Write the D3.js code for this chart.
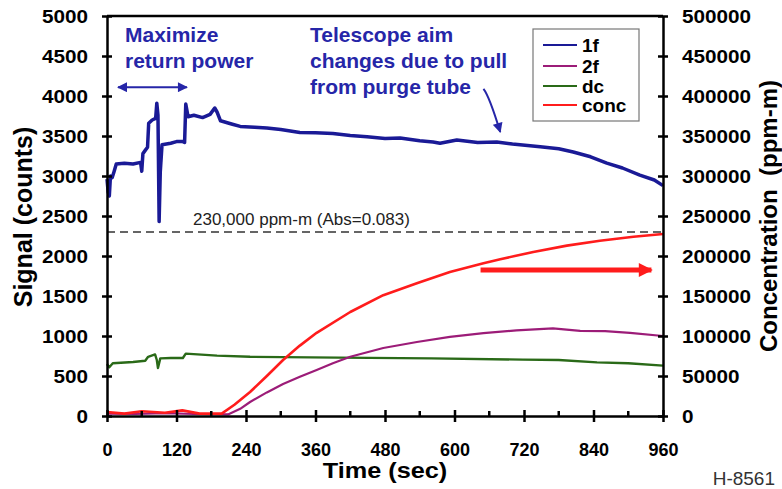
<!DOCTYPE html>
<meta charset="utf-8">
<html>
<style>
body { margin: 0; background: #fff; }
svg text { font-family: "Liberation Sans", Arial, sans-serif; }
.axis path, .axis line { stroke: #000; stroke-width: 2.5px; }
.trace { fill: none; stroke-linejoin: round; }
</style>
<body>
<script src="https://d3js.org/d3.v7.min.js"></script>
<script>

// ---- data ----
var timeTicks = [0, 120, 240, 360, 480, 600, 720, 840, 960];
var minorTicks = [60, 180, 300, 420, 540, 660, 780, 900];
var signalTicks = [0, 500, 1000, 1500, 2000, 2500, 3000, 3500, 4000, 4500, 5000];
var concTicks = [0, 50000, 100000, 150000, 200000, 250000, 300000, 350000, 400000, 450000, 500000];

var seriesNames = ["1f", "2f", "dc", "conc"];

// 1f (counts)
var t1f = [0, 2, 4, 6, 9, 12, 16, 30, 45, 58, 60, 62, 66, 70, 72, 78, 84, 86, 88, 90, 92, 95, 110, 120, 131, 134, 136, 140, 150, 165, 178, 186, 190, 196, 215, 230, 255, 276, 300, 333, 360, 390, 420, 449, 480, 506, 540, 563, 575, 604, 640, 673, 700, 748, 780, 805, 835, 863, 890, 920, 945, 960];
var v1f = [2960, 2800, 2750, 3000, 2980, 3050, 3150, 3160, 3150, 3170, 3060, 3280, 3320, 3360, 3660, 3700, 3720, 3910, 3760, 2430, 3050, 3390, 3410, 3430, 3430, 3420, 3900, 3740, 3760, 3730, 3770, 3850, 3800, 3690, 3650, 3620, 3610, 3600, 3580, 3545, 3540, 3530, 3505, 3490, 3470, 3475, 3440, 3425, 3410, 3450, 3420, 3425, 3400, 3365, 3340, 3300, 3240, 3160, 3100, 3010, 2950, 2880];

// 2f (counts)
var t2f = [0, 50, 100, 150, 209, 230, 247, 276, 304, 333, 362, 390, 420, 477, 535, 592, 650, 707, 770, 817, 860, 903, 960];
var v2f = [30, 25, 35, 25, 20, 90, 175, 295, 400, 490, 575, 660, 740, 850, 925, 990, 1035, 1070, 1095, 1065, 1060, 1040, 1000];

// dc (counts)
var tdc = [0, 4, 10, 45, 66, 71, 83, 86, 88, 92, 110, 131, 136, 190, 247, 400, 560, 718, 780, 846, 900, 960];
var vdc = [650, 610, 660, 675, 690, 740, 770, 700, 600, 720, 725, 725, 780, 755, 740, 730, 720, 705, 700, 670, 660, 630];

// conc (ppm-m)
var tconc = [0, 30, 60, 100, 130, 160, 198, 220, 247, 276, 304, 333, 362, 420, 477, 535, 592, 650, 679, 736, 794, 851, 909, 960];
var vconc = [5000, 3000, 6000, 4000, 7000, 3000, 3000, 14000, 30000, 50000, 70000, 88000, 104000, 130000, 151000, 166000, 180000, 191000, 196000, 205000, 213000, 219000, 224000, 227500];

var thresholdConc = 230000;
var thresholdLabel = "230,000 ppm-m (Abs=0.083)";

// ---- layout ----
var W = 782, H = 489;
var mLeft = 107, mRight = 663, mTop = 16, mBottom = 416;
var colors = {"1f": "#1a1a96", "2f": "#9c1c78", "dc": "#2a6a18", "conc": "#ff1c1c"};
var noteBlue = "#2626a8";

var svg = d3.select("body").append("svg")
    .attr("width", W)
    .attr("height", H);

var defs = svg.append("defs");
function marker(id, color, w, h) {
  defs.append("marker")
      .attr("id", id)
      .attr("viewBox", "0 0 10 10")
      .attr("refX", 9).attr("refY", 5)
      .attr("markerWidth", w).attr("markerHeight", h)
      .attr("markerUnits", "userSpaceOnUse")
      .attr("orient", "auto-start-reverse")
    .append("path")
      .attr("d", "M0,0L10,5L0,10z")
      .attr("fill", color);
}
marker("arrBlue", noteBlue, 11, 10);
marker("arrRed", "#ff1c1c", 16, 14);

var x = d3.scaleLinear().domain([0, 960]).range([mLeft, mRight]);
var y = d3.scaleLinear().domain([0, 5000]).range([mBottom, mTop]);
var y2 = d3.scaleLinear().domain([0, 500000]).range([mBottom, mTop]);

function zip(ts, vs) { return ts.map(function(t, i) { return [t, vs[i]]; }); }

var lineSig = d3.line().x(function(d) { return x(d[0]); }).y(function(d) { return y(d[1]); });
var lineConc = d3.line().x(function(d) { return x(d[0]); }).y(function(d) { return y2(d[1]); });

// threshold dashed line
svg.append("line")
    .attr("x1", x(0)).attr("x2", x(960))
    .attr("y1", y2(thresholdConc)).attr("y2", y2(thresholdConc))
    .attr("stroke", "#333").attr("stroke-width", 1.6)
    .attr("stroke-dasharray", "8,5");
svg.append("text")
    .attr("x", 193).attr("y", 225)
    .attr("font-size", 17).attr("fill", "#222")
    .text(thresholdLabel);

// traces
svg.append("path").datum(zip(tdc, vdc)).attr("class", "trace")
    .attr("stroke", colors.dc).attr("stroke-width", 2.4).attr("d", lineSig);
svg.append("path").datum(zip(t2f, v2f)).attr("class", "trace")
    .attr("stroke", colors["2f"]).attr("stroke-width", 2.2).attr("d", lineSig);
svg.append("path").datum(zip(tconc, vconc)).attr("class", "trace")
    .attr("stroke", colors.conc).attr("stroke-width", 2.6).attr("d", lineConc);
svg.append("path").datum(zip(t1f, v1f)).attr("class", "trace")
    .attr("stroke", colors["1f"]).attr("stroke-width", 3.5).attr("d", lineSig);

// frame top
svg.append("line")
    .attr("x1", mLeft).attr("x2", mRight).attr("y1", mTop).attr("y2", mTop)
    .attr("stroke", "#000").attr("stroke-width", 2.5);

// left axis
var gL = svg.append("g").attr("class", "axis")
    .attr("transform", "translate(" + mLeft + ",0)")
    .call(d3.axisLeft(y).tickValues(signalTicks).tickSizeOuter(0).tickFormat(d3.format("d")));
gL.selectAll(".tick line").attr("x1", 5).attr("x2", -5);
gL.selectAll(".tick text")
    .attr("x", 0).attr("dy", "0.35em")
    .attr("transform", "translate(-19,0) scale(1.15,1)")
    .attr("font-size", 18).attr("font-weight", "bold");

// right axis
var gR = svg.append("g").attr("class", "axis")
    .attr("transform", "translate(" + mRight + ",0)")
    .call(d3.axisRight(y2).tickValues(concTicks).tickSizeOuter(0).tickFormat(d3.format("d")));
gR.selectAll(".tick line").attr("x1", -5).attr("x2", 5);
gR.selectAll(".tick text")
    .attr("x", 0).attr("dy", "0.35em")
    .attr("transform", "translate(19,0) scale(1.15,1)")
    .attr("font-size", 18).attr("font-weight", "bold");

// bottom axis
var gB = svg.append("g").attr("class", "axis")
    .attr("transform", "translate(0," + mBottom + ")")
    .call(d3.axisBottom(x).tickValues(timeTicks).tickSizeOuter(0).tickFormat(d3.format("d")));
gB.selectAll(".tick line").attr("y1", -6).attr("y2", 6);
gB.selectAll(".tick text")
    .attr("y", 40).attr("dy", 0)
    .attr("font-size", 18).attr("font-weight", "bold");
gB.selectAll(".minor").data(minorTicks).enter().append("line")
    .attr("class", "minor")
    .attr("x1", function(d) { return x(d); }).attr("x2", function(d) { return x(d); })
    .attr("y1", 0).attr("y2", -5);

// axis titles
svg.append("text")
    .attr("transform", "translate(385,478) scale(1.15,1)")
    .attr("text-anchor", "middle").attr("font-size", 22).attr("font-weight", "bold")
    .text("Time (sec)");
svg.append("text")
    .attr("transform", "translate(32,217) rotate(-90)")
    .attr("text-anchor", "middle").attr("font-size", 25).attr("font-weight", "bold")
    .text("Signal (counts)");
svg.append("text")
    .attr("transform", "translate(777,216) rotate(-90)")
    .attr("text-anchor", "middle").attr("font-size", 24).attr("font-weight", "bold")
    .style("white-space", "pre")
    .text("Concentration  (ppm-m)");

svg.append("text")
    .attr("x", 775).attr("y", 485).attr("text-anchor", "end")
    .attr("font-size", 19).attr("fill", "#333")
    .text("H-8561");

// annotations
var noteLeft = ["Maximize", "return power"];
var noteRight = ["Telescope aim", "changes due to pull", "from purge tube"];
svg.append("g").selectAll("text").data(noteLeft).enter().append("text")
    .attr("x", 125).attr("y", function(d, i) { return 42 + i * 26; })
    .attr("font-size", 21).attr("font-weight", "bold").attr("fill", noteBlue)
    .text(function(d) { return d; });
svg.append("g").selectAll("text").data(noteRight).enter().append("text")
    .attr("x", 310).attr("y", function(d, i) { return 42 + i * 26; })
    .attr("font-size", 21).attr("font-weight", "bold").attr("fill", noteBlue)
    .text(function(d) { return d; });

// double arrow
svg.append("line")
    .attr("x1", x(19)).attr("x2", x(138)).attr("y1", y(4110)).attr("y2", y(4110))
    .attr("stroke", noteBlue).attr("stroke-width", 2)
    .attr("marker-start", "url(#arrBlue)").attr("marker-end", "url(#arrBlue)");

// telescope arrow
svg.append("path")
    .attr("d", "M" + x(650) + "," + y(4090) + "Q" + x(660) + "," + y(4000) + " " + x(679) + "," + y(3550))
    .attr("fill", "none").attr("stroke", noteBlue).attr("stroke-width", 2)
    .attr("marker-end", "url(#arrBlue)");

// red arrow to right axis
svg.append("line")
    .attr("x1", x(645)).attr("x2", x(940)).attr("y1", y2(182500)).attr("y2", y2(182500))
    .attr("stroke", "#ff1c1c").attr("stroke-width", 5)
    .attr("marker-end", "url(#arrRed)");

// legend
var lg = svg.append("g");
lg.append("rect")
    .attr("x", 533).attr("y", 29).attr("width", 106).attr("height", 92)
    .attr("fill", "#fff").attr("stroke", "#777").attr("stroke-width", 1.2);
var legY = [45, 66, 86, 105];
var item = lg.selectAll(".item").data(seriesNames).enter().append("g").attr("class", "item");
item.append("line")
    .attr("x1", 543).attr("x2", 577)
    .attr("y1", function(d, i) { return legY[i]; }).attr("y2", function(d, i) { return legY[i]; })
    .attr("stroke", function(d) { return colors[d]; }).attr("stroke-width", 2);
item.append("text")
    .attr("x", 582).attr("y", function(d, i) { return legY[i] + 7; })
    .attr("font-size", 19).attr("font-weight", "bold")
    .text(function(d) { return d; });

</script>
</body>
</html>
